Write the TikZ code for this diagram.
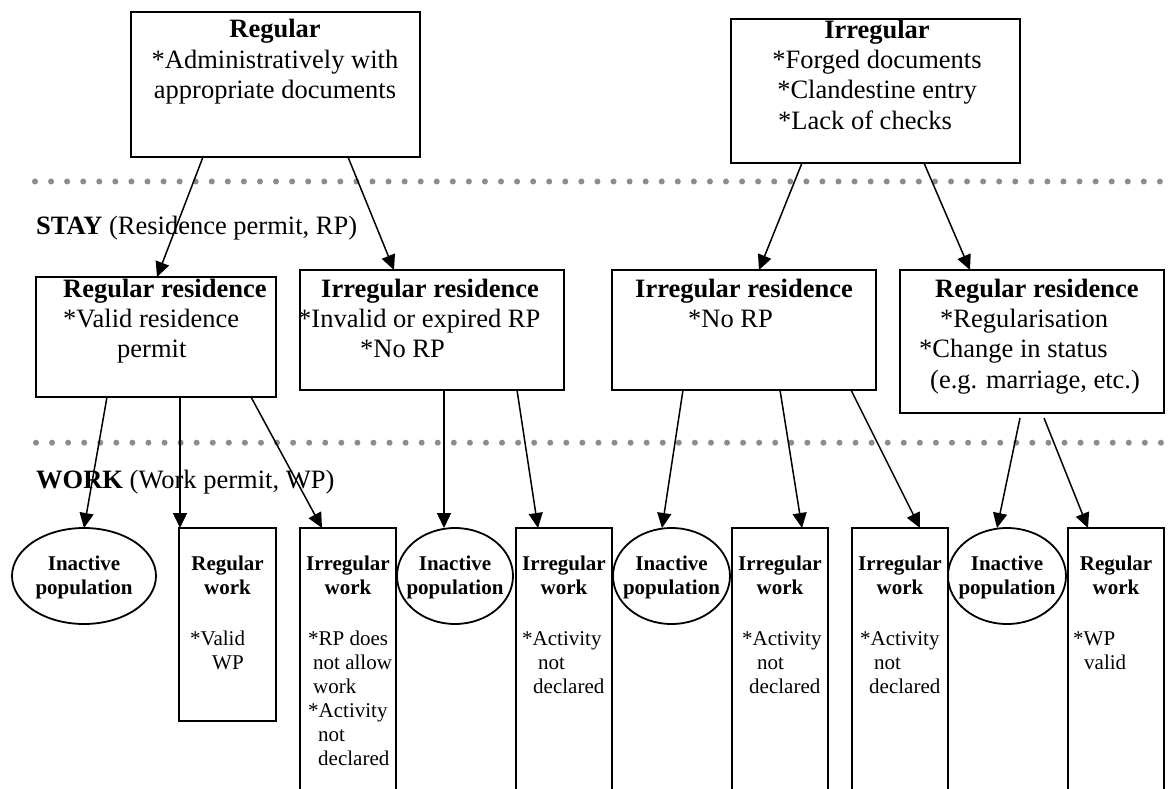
\documentclass[tikz,border=0pt]{standalone}
\usepackage{fontspec}
\setmainfont{Liberation Serif}
\usetikzlibrary{arrows.meta,shapes.geometric}
\definecolor{dotgray}{RGB}{140,140,140}
\tikzset{
  box/.style={draw, line width=1.8pt, rectangle, inner sep=0pt, outer sep=0pt, anchor=north west},
  oval/.style={draw, line width=1.8pt, ellipse, inner sep=0pt, outer sep=0pt, minimum height=96pt},
  arr/.style={line width=1.5pt, -{Triangle[length=15pt,width=14pt]}},
  bigtxt/.style={font=\fontsize{26.5}{30.3}\selectfont, inner sep=0pt, anchor=north west, align=left},
  smalltxt/.style={font=\fontsize{21}{24}\selectfont, inner sep=0pt, anchor=north west, align=left},
  smalltitle/.style={font=\fontsize{21}{24}\selectfont\bfseries, inner sep=0pt, anchor=north, align=center},
  dotrow/.style={fill=dotgray}
}
\begin{document}
\begin{tikzpicture}[x=1pt,y=-1pt]
\useasboundingbox (0,0) rectangle (1171,789);
\fill[white] (0,0) rectangle (1171,789);

% dotted separators
\foreach \i in {0,...,71} {
  \fill[dotrow] ({35+\i*16.07},181.5) circle[radius=3pt];
  \fill[dotrow] ({36+\i*16.07},442.7) circle[radius=3pt];
}

% top boxes
\node[box, minimum width=289pt, minimum height=145pt] (reg) at (131,12) {};
\node[bigtxt, anchor=north, align=center] (regT) at (275,16.3) {\strut\textbf{Regular}\\*Administratively with\\appropriate documents};
\node[box, minimum width=289pt, minimum height=144pt] (irr) at (731,19) {};
\node[bigtxt, anchor=north, align=center] (irrT) at (877,16.8) {\strut\textbf{Irregular}\\*Forged documents\\*Clandestine entry\\*Lack of checks\hspace*{24pt}};

% labels
\node[font=\fontsize{26.5}{30.3}\selectfont, inner sep=0pt, anchor=base west] (stay) at (36,235) {\textbf{STAY} (Residence permit, RP)};
\node[font=\fontsize{26.5}{30.3}\selectfont, inner sep=0pt, anchor=base west] (work) at (36,488) {\textbf{WORK} (Work permit, WP)};

% middle boxes
\node[box, minimum width=240pt, minimum height=120pt] (rrL) at (36,277) {};
\node[bigtxt] (rrLT) at (63,275.8) {\strut\textbf{Regular residence}\\*Valid residence\\\hspace*{54pt}permit};
\node[box, minimum width=264pt, minimum height=120pt] (ir1) at (300,270) {};
\node[bigtxt] (ir1T) at (298,275.8) {\strut\hspace*{23pt}\textbf{Irregular residence}\\*Invalid or expired RP\\\hspace*{62pt}*No RP};
\node[box, minimum width=264pt, minimum height=120pt] (ir2) at (612,270) {};
\node[bigtxt] (ir2T) at (635,275.8) {\strut\textbf{Irregular residence}\\\hspace*{53pt}*No RP};
\node[box, minimum width=264pt, minimum height=143pt] (rrR) at (900,270) {};
\node[bigtxt] (rrRT) at (919,275.8) {\strut\hspace*{16pt}\textbf{Regular residence}\\\hspace*{21pt}*Regularisation\\*Change in status\\\hspace*{11pt}(e.g. marriage, etc.)};

% bottom row
\node[oval, minimum width=144pt] (e1) at (84,576) {};
\node[smalltitle] (e1T) at (84,553.2) {\strut Inactive\\population};
\node[box, minimum width=97pt, minimum height=193pt] (rw1) at (179,528) {};
\node[smalltitle] (rw1T) at (227.5,553.2) {\strut Regular\\work};
\node[smalltxt] (rw1B) at (190,628.2) {\strut*Valid\\\hspace*{22pt}WP};
\node[box, minimum width=96pt, minimum height=300pt] (iw1) at (300,528) {};
\node[smalltitle] (iw1T) at (348,553.2) {\strut Irregular\\work};
\node[smalltxt] (iw1B) at (308,628.2) {\strut*RP does\\\hspace*{5pt}not allow\\\hspace*{5pt}work\\*Activity\\\hspace*{10pt}not\\\hspace*{10pt}declared};
\node[oval, minimum width=116pt] (e2) at (455,576) {};
\node[smalltitle] (e2T) at (455,553.2) {\strut Inactive\\population};
\node[box, minimum width=96pt, minimum height=300pt] (iw2) at (516,528) {};
\node[smalltitle] (iw2T) at (564,553.2) {\strut Irregular\\work};
\node[smalltxt] (iw2B) at (522,628.2) {\strut*Activity\\\hspace*{16pt}not\\\hspace*{11pt}declared};
\node[oval, minimum width=117pt] (e3) at (671.5,576) {};
\node[smalltitle] (e3T) at (671.5,553.2) {\strut Inactive\\population};
\node[box, minimum width=96pt, minimum height=300pt] (iw3) at (732,528) {};
\node[smalltitle] (iw3T) at (780,553.2) {\strut Irregular\\work};
\node[smalltxt] (iw3B) at (742,628.2) {\strut*Activity\\\hspace*{15pt}not\\\hspace*{7pt}declared};
\node[box, minimum width=96pt, minimum height=300pt] (iw4) at (852,528) {};
\node[smalltitle] (iw4T) at (900,553.2) {\strut Irregular\\work};
\node[smalltxt] (iw4B) at (860,628.2) {\strut*Activity\\\hspace*{14pt}not\\\hspace*{9pt}declared};
\node[oval, minimum width=118pt] (e4) at (1007,576) {};
\node[smalltitle] (e4T) at (1007,553.2) {\strut Inactive\\population};
\node[box, minimum width=96pt, minimum height=300pt] (rw2) at (1068,528) {};
\node[smalltitle] (rw2T) at (1116,553.2) {\strut Regular\\work};
\node[smalltxt] (rw2B) at (1073,628.2) {\strut*WP\\\hspace*{11pt}valid};

% connectors: top to middle
\draw[arr] ([xshift=72pt]reg.south west) -- ([xshift=121pt]rrL.north west);
\draw[arr] ([xshift=217pt]reg.south west) -- ([xshift=94pt]ir1.north west);
\draw[arr] ([xshift=71pt]irr.south west) -- ([xshift=147pt]ir2.north west);
\draw[arr] ([xshift=193pt]irr.south west) -- ([xshift=70pt]rrR.north west);

% connectors: middle to bottom
\draw[arr] ([xshift=71pt]rrL.south west) -- (e1.north);
\draw[arr] ([xshift=144pt]rrL.south west) -- ([xshift=1pt]rw1.north west);
\draw[arr] ([xshift=215pt]rrL.south west) -- ([xshift=22pt]iw1.north west);
\draw[arr] ([xshift=144pt]ir1.south west) -- ([xshift=-11pt]e2.north);
\draw[arr] ([xshift=217pt]ir1.south west) -- ([xshift=22pt]iw2.north west);
\draw[arr] ([xshift=71pt]ir2.south west) -- ([xshift=-9.5pt]e3.north);
\draw[arr] ([xshift=168pt]ir2.south west) -- ([xshift=70pt]iw3.north west);
\draw[arr] ([xshift=239pt]ir2.south west) -- ([xshift=68pt]iw4.north west);
\coordinate (rrRa) at ([xshift=120pt,yshift=-5pt]rrR.south west);
\coordinate (rrRb) at ([xshift=144pt,yshift=-5pt]rrR.south west);
\draw[arr] (rrRa) -- ([xshift=-10pt]e4.north);
\draw[arr] (rrRb) -- ([xshift=20pt]rw2.north west);
\end{tikzpicture}
\end{document}
